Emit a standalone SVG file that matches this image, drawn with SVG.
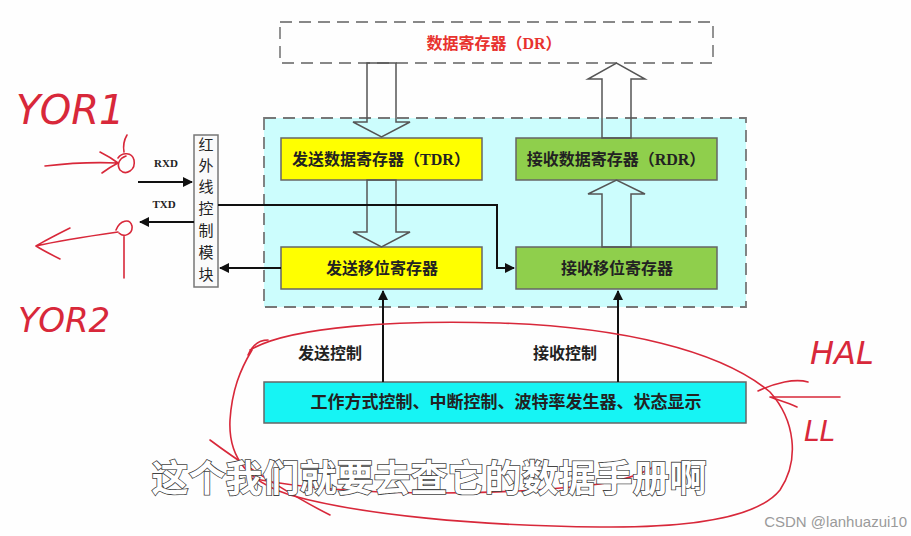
<svg xmlns="http://www.w3.org/2000/svg" width="911" height="536" viewBox="0 0 911 536">
<defs>
<style>
.cn{font-family:"Liberation Serif","Noto Sans CJK SC",serif;font-weight:bold;font-size:16px;fill:#222;text-anchor:middle;dominant-baseline:central}
.box{stroke:#666;stroke-width:1.5}
.hollow{fill:none;stroke:#555;stroke-width:1.5}
.wire{fill:none;stroke:#111;stroke-width:2}
.red{fill:none;stroke:#d8283a;stroke-width:1.6;stroke-linecap:round;stroke-linejoin:round}
.hand{font-family:"DejaVu Sans","Liberation Sans",sans-serif;font-style:italic;fill:#d8283a;font-weight:200}
</style>
<marker id="ah" viewBox="0 0 10 10" refX="9" refY="5" markerWidth="5" markerHeight="5" orient="auto-start-reverse" markerUnits="strokeWidth">
<path d="M0,0 L10,5 L0,10 z" fill="#111"/>
</marker>
</defs>
<rect width="911" height="536" fill="#fefefe"/>

<g id="dr">
<rect x="280" y="22" width="433" height="41" fill="none" stroke="#888" stroke-width="1.8" stroke-dasharray="12,7"/>
<text class="cn" x="494" y="43" style="fill:#e8322e">数据寄存器（DR）</text>
</g>

<g id="container">
<rect x="264" y="118" width="482" height="189" fill="#ccfdfd" stroke="#777" stroke-width="1.8" stroke-dasharray="12,7"/>
</g>

<g id="tdr">
<rect class="box" x="281" y="138" width="201" height="42" fill="#ffff00"/>
<text class="cn" x="381" y="159">发送数据寄存器（TDR）</text>
</g>
<g id="rdr">
<rect class="box" x="516" y="138" width="201" height="42" fill="#8fcf4c"/>
<text class="cn" x="616" y="159">接收数据寄存器（RDR）</text>
</g>
<g id="tsr">
<rect class="box" x="281" y="247" width="201" height="42" fill="#ffff00"/>
<text class="cn" x="382" y="268">发送移位寄存器</text>
</g>
<g id="rsr">
<rect class="box" x="516" y="247" width="201" height="42" fill="#8fcf4c"/>
<text class="cn" x="617" y="268">接收移位寄存器</text>
</g>
<g id="ctrl">
<rect class="box" x="264" y="382" width="482" height="41" fill="#16f4f4"/>
<text class="cn" x="506" y="402" style="font-size:17px">工作方式控制、中断控制、波特率发生器、状态显示</text>
</g>
<g id="ir">
<rect x="194" y="135" width="24" height="152" fill="#fafafa" stroke="#777" stroke-width="1.5"/>
<text class="cn" x="206" y="145" style="font-size:15px;font-weight:normal">红</text>
<text class="cn" x="206" y="166" style="font-size:15px;font-weight:normal">外</text>
<text class="cn" x="206" y="187" style="font-size:15px;font-weight:normal">线</text>
<text class="cn" x="206" y="209" style="font-size:15px;font-weight:normal">控</text>
<text class="cn" x="206" y="231" style="font-size:15px;font-weight:normal">制</text>
<text class="cn" x="206" y="253" style="font-size:15px;font-weight:normal">模</text>
<text class="cn" x="206" y="275" style="font-size:15px;font-weight:normal">块</text>
</g>

<g id="connectors">
<polygon class="hollow" points="367,63 396,63 396,122 410,122 381.5,137 353,122 367,122"/>
<polygon class="hollow" points="367,180 396,180 396,232 410,232 381.5,247 353,232 367,232"/>
<polygon class="hollow" points="602,247 631,247 631,194 645,194 616.5,180 588,194 602,194"/>
<polygon class="hollow" points="602,138 631,138 631,79 645,79 616.5,63 588,79 602,79"/>
<path class="wire" d="M218,205 H497 V268 H514" marker-end="url(#ah)"/>
<path class="wire" d="M281,268 H220" marker-end="url(#ah)"/>
<path class="wire" d="M138,182 H192" marker-end="url(#ah)"/>
<path class="wire" d="M194,222 H140" marker-end="url(#ah)"/>
<path class="wire" d="M383,382 V291" marker-end="url(#ah)"/>
<path class="wire" d="M618,382 V291" marker-end="url(#ah)"/>
<text class="cn" x="166" y="163" style="font-size:11px">RXD</text>
<text class="cn" x="164" y="204" style="font-size:11px">TXD</text>
<text class="cn" x="330" y="353" style="font-size:16px">发送控制</text>
<text class="cn" x="565" y="353" style="font-size:16px">接收控制</text>
</g>

<g id="annotations">
<text class="hand" x="16" y="124" style="font-size:40px">YOR1</text>
<text class="hand" x="18" y="332" style="font-size:34px">YOR2</text>
<text class="hand" x="810" y="364" style="font-size:32px">HAL</text>
<text class="hand" x="804" y="441" style="font-size:28px">LL</text>
<path class="red" d="M45,166 C70,163 95,162 118,163 M100,152 C108,156 114,160 118,163 C112,166 106,170 102,173"/>
<path class="red" d="M127,135 C124,140 123,146 124,152 M118,158 C122,152 132,152 134,160 C136,170 126,176 120,170 C116,164 120,158 126,156"/>
<path class="red" d="M116,230 C120,220 130,218 132,226 C133,234 124,238 119,233 M124,236 V278"/>
<path class="red" d="M118,232 C90,236 62,240 36,246 M70,228 C58,234 46,240 36,246 C44,251 52,255 60,259"/>
<path class="red" d="M248,355 C252,346 258,340 268,340 M250,350 C290,326 400,320 500,323 C620,327 720,350 770,392 C795,420 800,460 780,490 C760,515 700,528 600,527 C480,526 360,515 290,495 C250,482 228,460 230,420 C232,390 240,370 252,350"/>
<path class="red" d="M210,440 C250,470 300,500 330,515 M250,478 C350,498 500,496 600,484 C625,480 645,472 655,466"/>
<path class="red" d="M840,397 C815,397 790,397 770,397 M808,382 C795,378 775,383 758,391 M797,407 C788,403 778,400 770,397"/>
</g>

<g id="subtitle">
<text x="429" y="492" text-anchor="middle" style="font-family:'Noto Sans CJK SC','Liberation Sans',sans-serif;font-size:37px;font-weight:bold;fill:#ffffff;stroke:#444;stroke-width:1.6;paint-order:stroke">这个我们就要去查它的数据手册啊</text>
</g>
<text x="907" y="527" text-anchor="end" style="font-family:'Liberation Sans',sans-serif;font-size:15px;fill:#9a9a9a">CSDN @lanhuazui10</text>
</svg>
